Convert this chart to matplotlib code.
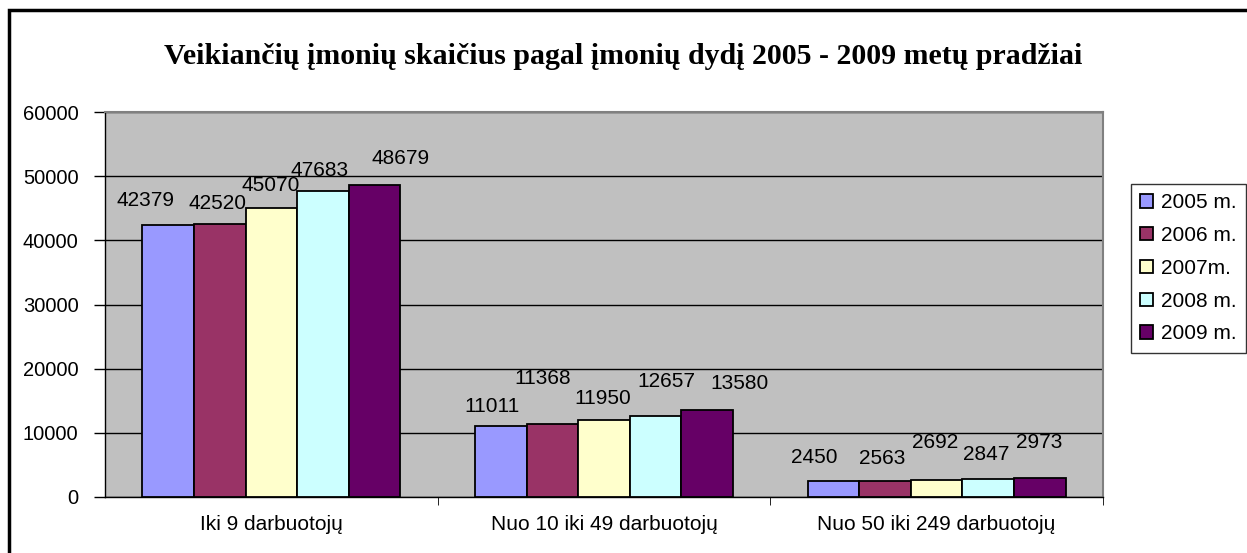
import matplotlib
matplotlib.use("Agg")
import matplotlib.pyplot as plt
from matplotlib.patches import Rectangle
import numpy as np

categories = ["Iki 9 darbuotojų", "Nuo 10 iki 49 darbuotojų", "Nuo 50 iki 249 darbuotojų"]
series_names = ["2005 m.", "2006 m.", "2007m.", "2008 m.", "2009 m."]
v2005 = [42379, 11011, 2450]
v2006 = [42520, 11368, 2563]
v2007 = [45070, 11950, 2692]
v2008 = [47683, 12657, 2847]
v2009 = [48679, 13580, 2973]
yticks = [0, 10000, 20000, 30000, 40000, 50000, 60000]
title = "Veikiančių įmonių skaičius pagal įmonių dydį 2005 - 2009 metų pradžiai"

colors = ["#9999FF", "#993366", "#FFFFCC", "#CCFFFF", "#660066"]
# label nudges (pixels) as Excel placed them
label_dx = [[-23, -9, -19], [-2, -10, -3], [-1, -1, -2], [-3, 11, -2], [26, 32, -1]]
label_dy = [[25, 20, 24], [21, 46, 22], [22, 22, 37], [21, 34, 24], [26, 26, 35]]

plt.rcParams["font.family"] = ["Liberation Sans", "DejaVu Sans"]

fig = plt.figure(figsize=(12.47, 5.53), dpi=100)
ax = fig.add_axes([105 / 1247, 1 - 497 / 553, 998 / 1247, 385 / 553])
ax.set_facecolor("#C0C0C0")

x = np.arange(len(categories))
w = 0.155
for i, (vals, name) in enumerate(zip([v2005, v2006, v2007, v2008, v2009], series_names)):
    pos = x + (i - 2) * w
    ax.bar(pos, vals, width=w, color=colors[i], edgecolor="black", linewidth=1.3,
           label=name, zorder=3)
    for j, v in enumerate(vals):
        ax.annotate(str(v), (pos[j], v), xytext=(label_dx[i][j], label_dy[i][j]),
                    textcoords="offset pixels", ha="center", va="center",
                    fontsize=15, zorder=4)

ax.set_xlim(-0.5, 2.5)
ax.set_ylim(0, 60000)
ax.set_yticks(yticks)
ax.set_yticklabels([str(t) for t in yticks], fontsize=14.5)
ax.yaxis.grid(True, color="black", linewidth=1.0, zorder=1)
ax.set_xticks(x)
ax.set_xticklabels(categories, fontsize=15)
ax.tick_params(axis="x", length=0, pad=13)
ax.set_xticks([0.5, 1.5, 2.5], minor=True)
ax.tick_params(axis="x", which="minor", length=6, color="black", direction="out")
ax.tick_params(axis="y", length=8, width=1, direction="out", pad=11)
for s in ["top", "right"]:
    ax.spines[s].set_color("#808080")
    ax.spines[s].set_linewidth(1.5)
for s in ["left", "bottom"]:
    ax.spines[s].set_color("black")
    ax.spines[s].set_linewidth(1.0)

fig.text(0.5, 1 - 57 / 553, title, ha="center", va="center", fontsize=21.5,
         fontweight="bold", family=["Liberation Serif", "DejaVu Serif"])

leg = fig.legend(loc="upper left", bbox_to_anchor=(1131 / 1247, 1 - 184 / 553),
                 fontsize=15, frameon=True, fancybox=False, edgecolor="black",
                 handlelength=0.6, handleheight=0.6, handletextpad=0.4,
                 labelspacing=0.66, borderpad=0.45, borderaxespad=0)
leg.get_frame().set_linewidth(1.0)

fig.patches.append(Rectangle((9 / 1247, -0.1), 1.2, 1.1 - 10 / 553, transform=fig.transFigure,
                             fill=False, edgecolor="black", linewidth=2.5))

fig.savefig("out.png", dpi=100)
